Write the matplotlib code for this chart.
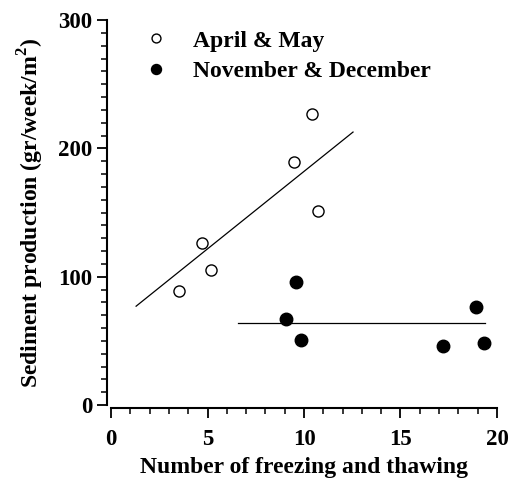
import matplotlib
matplotlib.use('Agg')
import matplotlib.pyplot as plt
from matplotlib.ticker import MultipleLocator

plt.rcParams['font.family'] = 'Liberation Serif'
plt.rcParams['font.weight'] = 'bold'
plt.rcParams['mathtext.fontset'] = 'custom'
plt.rcParams['mathtext.bf'] = 'Liberation Serif:bold'
plt.rcParams['mathtext.rm'] = 'Liberation Serif:bold'

# April & May (open circles)
x_spring = [3.5, 4.7, 5.2, 9.5, 10.4, 10.7]
y_spring = [89, 126, 105, 189, 227, 151]
# November & December (filled circles)
x_autumn = [9.07, 9.57, 9.83, 17.2, 18.9, 19.34]
y_autumn = [67, 96, 51, 46, 76, 48]

# fitted lines (endpoints)
fit_spring_x = [1.3, 12.54]
fit_spring_y = [77, 212.7]
fit_autumn_x = [6.6, 19.4]
fit_autumn_y = [64, 64]

fig = plt.figure(figsize=(5.13, 4.78), dpi=100)
ax = fig.add_axes([0.2164, 0.1527, 0.7524, 0.8054])

ax.plot(fit_spring_x, fit_spring_y, c='k', lw=0.9)
ax.plot(fit_autumn_x, fit_autumn_y, c='k', lw=0.9)
ax.plot(x_spring, y_spring, 'o', mfc='white', mec='k', mew=1.0, ms=8, ls='none',
        label='April & May', clip_on=False)
ax.plot(x_autumn, y_autumn, 'o', mfc='k', mec='k', ms=9, ls='none',
        label='November & December', clip_on=False)

ax.set_xlim(0, 20)
ax.set_ylim(0, 300)
ax.xaxis.set_major_locator(MultipleLocator(5))
ax.xaxis.set_minor_locator(MultipleLocator(1))
ax.yaxis.set_major_locator(MultipleLocator(100))
ax.yaxis.set_minor_locator(MultipleLocator(10))

for s in ['top', 'right']:
    ax.spines[s].set_visible(False)
ax.spines['left'].set_position(('outward', 3))
ax.spines['bottom'].set_position(('outward', 2))
ax.spines['left'].set_linewidth(1.5)
ax.spines['bottom'].set_linewidth(1.5)

ax.tick_params(which='major', direction='out', length=7.5, width=1.3, labelsize=16.5, pad=3)
ax.tick_params(which='minor', direction='out', length=4.5, width=1.1)
ax.tick_params(axis='x', which='major', pad=7.5)
for lab in ax.get_xticklabels() + ax.get_yticklabels():
    lab.set_fontweight('bold')

ax.set_xlabel('Number of freezing and thawing', fontsize=17, fontweight='bold', labelpad=5)
ax.set_ylabel(r'Sediment production (gr/week/m$^{\mathbf{2}}$)', fontsize=17,
              fontweight='bold', labelpad=9)

ax.legend(loc='upper left', bbox_to_anchor=(0.0855, 0.974), frameon=False,
          prop={'size': 17, 'weight': 'bold'}, handletextpad=1.06, labelspacing=0.37,
          handlelength=1.0, borderpad=0, borderaxespad=0, markerscale=0.8)

fig.savefig('out.png', dpi=100)
